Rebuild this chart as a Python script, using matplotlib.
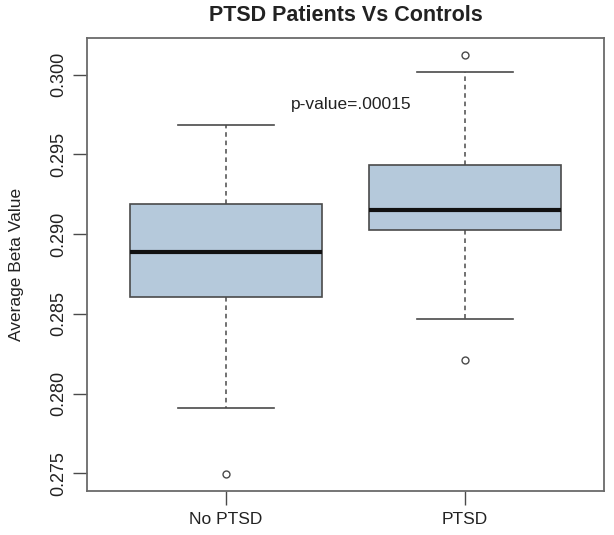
import matplotlib
matplotlib.use("Agg")
import matplotlib.pyplot as plt

plt.rcParams['font.family'] = ['Liberation Sans', 'DejaVu Sans']

categories = ["No PTSD", "PTSD"]
whisker_low = [0.27907, 0.28465]
q1 = [0.28603, 0.29023]
median = [0.28885, 0.29154]
q3 = [0.29186, 0.29436]
whisker_high = [0.29687, 0.30019]
outliers = [[0.27494], [0.28208, 0.30125]]
yticks = [0.275, 0.280, 0.285, 0.290, 0.295, 0.300]
ytick_labels = ["0.275", "0.280", "0.285", "0.290", "0.295", "0.300"]

stats = []
for i, c in enumerate(categories):
    stats.append(dict(label=c, whislo=whisker_low[i], q1=q1[i], med=median[i],
                      q3=q3[i], whishi=whisker_high[i], fliers=outliers[i]))

fig = plt.figure(figsize=(6.14, 5.35), dpi=100)
ax = fig.add_axes([87/614, 1-491/535, (604-87)/614, (491-38)/535])

line_col = "#4a4a4a"
ax.bxp(stats, positions=[1, 2], widths=0.8, patch_artist=True, showfliers=True,
       boxprops=dict(facecolor="#b5c9db", edgecolor=line_col, linewidth=1.2),
       medianprops=dict(color="#111111", linewidth=3),
       whiskerprops=dict(color=line_col, linewidth=1.1, linestyle=(0, (3, 2.5))),
       capprops=dict(color=line_col, linewidth=1.2),
       capwidths=0.4,
       flierprops=dict(marker='o', markerfacecolor='none', markeredgecolor=line_col,
                       markersize=5, markeredgewidth=1))

ax.set_xlim(0.42, 2.58)
ax.set_ylim(0.27389, 0.3023)
ax.set_yticks(yticks)
ax.set_yticklabels(ytick_labels, rotation=90, va='center', fontsize=13, color="#222222")
ax.set_xticks([1, 2])
ax.set_xticklabels(categories, fontsize=12.5, color="#222222")
ax.tick_params(axis='y', length=10, width=1, color=line_col, pad=4)
ax.tick_params(axis='x', length=10, width=1, color=line_col, pad=5)
for s in ax.spines.values():
    s.set_color("#6a6a6a")
    s.set_linewidth(1.3)

ax.set_ylabel("Average Beta Value", fontsize=12.5, color="#222222", labelpad=19)
ax.set_title("PTSD Patients Vs Controls", fontsize=15.5, fontweight='bold', color="#222222", pad=12)
ax.text(1.27, 0.29812, "p-value=.00015", fontsize=12.5, color="#222222", va='center', ha='left')

fig.savefig("out.png", dpi=100)
